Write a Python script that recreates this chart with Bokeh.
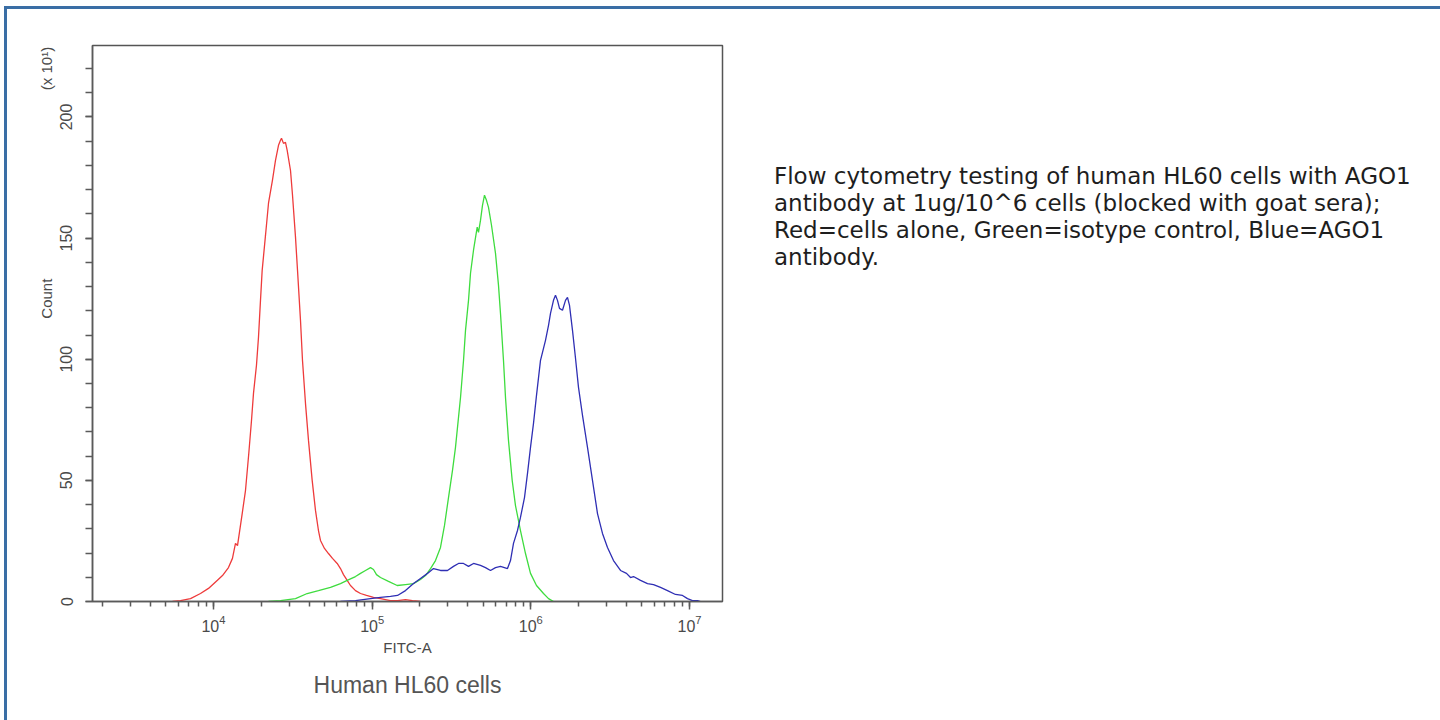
from bokeh.plotting import figure
from bokeh.layouts import row
from bokeh.models import (Range1d, SingleIntervalTicker, LogTicker, LinearAxis,
                          FixedTicker, Title, Div)
from bokeh.embed import file_html
from bokeh.resources import INLINE

# ---- data (FITC-A intensity, count x10) ----
red_x = [5515, 6194, 7163, 8281, 9300, 10550, 11395, 12430, 13170, 13760, 14170, 15170,
         15910, 16690, 17360, 17870, 18660, 19210, 19780, 20270, 21270, 22220, 23540,
         24590, 25690, 26440, 26830, 27620, 28430, 29140, 30580, 31480, 32880, 33850,
         35350, 36390, 38000, 39700, 41880, 43940, 45880, 47240, 50070, 53060, 56230,
         60200, 63160, 65980, 69590, 73010, 78510, 84440, 92110, 101950, 112870,
         130480, 144450, 162180, 179580, 201630]
red_y = [0, 0.4, 1.2, 3.3, 5.4, 8.7, 10.7, 14.0, 17.8, 24.0, 23.1, 36.3, 45.8, 61.1,
         74.7, 85.9, 97.5, 109.0, 124.3, 136.7, 151.1, 164.4, 173.9, 182.1, 188.3, 190.4,
         191.2, 189.1, 189.5, 186.2, 177.9, 167.7, 150.3, 136.7, 116.0, 99.5, 81.8, 66.5,
         50.0, 37.6, 29.3, 25.2, 21.9, 19.8, 17.8, 15.7, 13.6, 11.1, 8.7, 6.6, 4.5, 3.3,
         2.5, 1.7, 1.2, 0.4, 0.4, 0.8, 0.4, 0]

green_x = [22220, 26440, 32880, 38950, 45880, 54620, 63160, 69590, 78510, 84440, 90780,
           97610, 101950, 106490, 112870, 126700, 143820, 162180, 182210, 201630, 216850,
           233220, 250660, 269550, 285700, 302750, 320830, 335100, 360430, 376460,
           387540, 404780, 416700, 435250, 459200, 467900, 481600, 495800, 510400,
           525400, 541000, 565100, 598900, 625500, 643900, 672500, 692300, 723000,
           762900, 800300, 860400, 925400, 995200, 1085600, 1201700, 1292500, 1389200]
green_y = [0, 0.4, 1.2, 3.3, 4.5, 5.8, 7.4, 8.7, 10.3, 11.6, 12.8, 14.0, 13.2, 11.1, 9.9,
           8.3, 6.6, 7.0, 7.4, 9.1, 10.7, 13.6, 16.9, 22.3, 31.4, 42.9, 54.1, 63.6, 84.2,
           99.5, 111.9, 124.3, 135.5, 145.0, 154.5, 152.4, 157.3, 163.5, 167.7, 165.6,
           162.7, 155.3, 143.7, 130.5, 118.9, 99.5, 84.2, 66.5, 50.0, 39.6, 29.3, 19.8,
           11.6, 6.6, 3.3, 1.2, 0]

blue_x = [63160, 78510, 97610, 112870, 130480, 144450, 162180, 182210, 201630, 223200,
          243500, 269550, 298400, 325500, 350000, 376460, 404780, 435250, 481600, 517900,
          556900, 598900, 643900, 712700, 744400, 777500, 823900, 860400, 912000, 952800,
          995200, 1039400, 1085600, 1150500, 1201700, 1237100, 1292500, 1330300,
          1389200, 1430300, 1472300, 1515700, 1583100, 1653600, 1702200, 1752700,
          1830600, 1912100, 1997100, 2116400, 2275600, 2446500, 2631000, 2828600,
          3042000, 3319000, 3674000, 4008000, 4248000, 4436000, 4912000, 5437000,
          5932000, 6565000, 7266000, 8160000, 9033000, 9712000, 10442000, 11230000,
          11730000]
blue_y = [0, 0.4, 1.2, 1.7, 2.1, 2.5, 4.5, 7.4, 9.5, 11.6, 13.6, 12.8, 12.8, 14.5, 15.7,
          15.7, 14.5, 15.7, 14.9, 14.0, 12.8, 14.0, 14.5, 13.6, 16.9, 24.0, 29.3, 34.7,
          42.9, 52.9, 63.6, 73.5, 85.1, 99.5, 104.5, 107.8, 114.0, 118.9, 124.3, 126.4,
          124.3, 121.0, 120.2, 124.3, 125.5, 122.2, 111.9, 100.4, 88.4, 76.8, 63.6, 50.0,
          36.3, 28.1, 22.3, 16.9, 12.8, 11.6, 9.9, 10.3, 8.7, 7.4, 7.0, 5.8, 4.5, 2.9,
          2.5, 1.2, 0.4, 0.4, 0]

y_tick_interval = 50
x_label = "FITC-A"
y_label = "Count"
y_scale_note = "(x 10\u00b9)"
y_label_at = 125
y_note_at = 220
chart_title = "Human HL60 cells"
description = [
    "Flow cytometry testing of human HL60 cells with AGO1",
    "antibody at 1ug/10^6 cells (blocked with goat sera);",
    "Red=cells alone, Green=isotype control, Blue=AGO1",
    "antibody.",
]

AX = "#5a5a5a"
TXT = "#4a4a4a"
CF = "Liberation Sans"

p = figure(width=730, height=712, x_axis_type="log",
           x_range=Range1d(1728, 1.614e7), y_range=Range1d(0, 229.5),
           output_backend="svg", toolbar_location=None,
           min_border_left=92, min_border_top=45, min_border_right=8,
           min_border_bottom=111)
p.background_fill_color = "white"
p.border_fill_color = None
p.outline_line_color = "#555555"
p.outline_line_width = 1.5
p.xgrid.visible = False
p.ygrid.visible = False

p.line(red_x, red_y, line_color="#ee3b3b", line_width=1.3)
p.line(green_x, green_y, line_color="#3edc3e", line_width=1.3)
p.line(blue_x, blue_y, line_color="#2f2fb4", line_width=1.3)

# main axes
p.yaxis.ticker = SingleIntervalTicker(interval=y_tick_interval, num_minor_ticks=5)
p.xaxis.ticker = LogTicker(num_minor_ticks=10)
for ax in (p.xaxis[0], p.yaxis[0]):
    ax.axis_line_color = AX
    ax.axis_line_width = 1.5
    ax.major_tick_line_color = AX
    ax.minor_tick_line_color = AX
    ax.major_tick_line_width = 1.5
    ax.minor_tick_line_width = 1.5
    ax.major_tick_in = 0
    ax.minor_tick_in = 0
    ax.major_label_text_font = CF
    ax.major_label_text_color = TXT
    ax.major_label_text_font_size = "16px"
p.yaxis.major_tick_out = 7
p.yaxis.minor_tick_out = 7
p.yaxis.major_label_orientation = "vertical"
p.yaxis.major_label_standoff = 13
p.xaxis.major_tick_out = 8
p.xaxis.minor_tick_out = 5
p.xaxis.major_label_standoff = 5
p.xaxis.axis_label = x_label
p.xaxis.axis_label_text_font = CF
p.xaxis.axis_label_text_font_style = "normal"
p.xaxis.axis_label_text_font_size = "15px"
p.xaxis.axis_label_text_color = TXT
p.xaxis.axis_label_standoff = 4

# outer left axis carrying the "Count" and "(x 10^1)" texts at their heights
lab_axis = LinearAxis(ticker=FixedTicker(ticks=[y_label_at, y_note_at]),
                      major_label_overrides={y_label_at: y_label, y_note_at: y_scale_note})
lab_axis.axis_line_color = None
lab_axis.major_tick_line_color = None
lab_axis.minor_tick_line_color = None
lab_axis.major_tick_out = 0
lab_axis.major_tick_in = 0
lab_axis.major_label_standoff = 2
lab_axis.major_label_orientation = "vertical"
lab_axis.major_label_text_font = CF
lab_axis.major_label_text_font_size = "15px"
lab_axis.major_label_text_color = TXT
p.add_layout(lab_axis, "left")

# bottom title
p.add_layout(Title(text=chart_title, align="center", standoff=23,
                   text_font=CF, text_font_size="23px", text_font_style="normal",
                   text_color="#555555"), "below")

desc_html = ("<div style=\"font-family:'DejaVu Sans';font-size:23px;line-height:27px;"
             "color:#1e1e1e;white-space:nowrap;padding-left:39px;padding-top:158px;\">"
             + "<br>".join(description) + "</div>")
desc = Div(text=desc_html, width=710, height=712)

BC = "#3a6ea5"
layout = row(p, desc)
layout.styles = {"box-shadow": (
    "inset 4px 0 0 0 #ffffff, inset 0 6px 0 0 #ffffff, inset -1px 0 0 0 #ffffff, "
    f"inset 7px 0 0 0 {BC}, inset 0 9px 0 0 {BC}, inset -4px 0 0 0 {BC}")}

open("out.html", "w").write(file_html(layout, INLINE))
